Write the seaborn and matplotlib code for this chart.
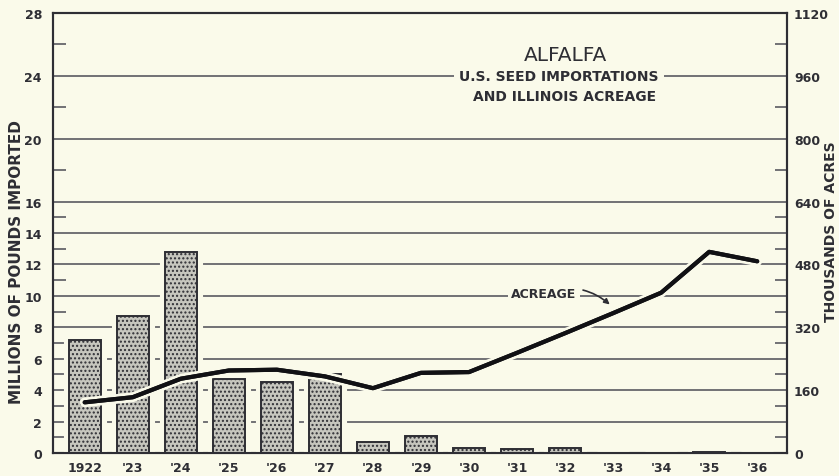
import numpy as np
import pandas as pd
import matplotlib
matplotlib.use('Agg')
import matplotlib.pyplot as plt
import matplotlib.patheffects as pe
import seaborn as sns

# data
years = ['1922', "'23", "'24", "'25", "'26", "'27", "'28", "'29",
         "'30", "'31", "'32", "'33", "'34", "'35", "'36"]
imports_mlb = [7.2, 8.7, 12.8, 4.7, 4.5, 5.0, 0.7, 1.1,
               0.35, 0.25, 0.35, 0.0, 0.0, 0.08, 0.0]
acreage_k = [129, 142, 189, 210, 212, 195, 165, 204,
             206, 255, 305, 356, 408, 512, 488]

left_ticks = [0, 2, 4, 6, 8, 10, 12, 14, 16, 20, 24, 28]
left_minor = [1, 3, 5, 7, 9, 11, 13, 15, 18, 22, 26]
right_ticks = [0, 160, 320, 480, 640, 800, 960, 1120]

BG = '#fafaea'
INK = '#2e2e34'
GRID = '#5a5a60'

sns.set_theme(style='white')
plt.rcParams['font.family'] = ['DejaVu Sans']
plt.rcParams['font.weight'] = 'bold'

df = pd.DataFrame({'year': years, 'imports': imports_mlb, 'acreage': acreage_k})

fig = plt.figure(figsize=(8.39, 4.77), dpi=100, facecolor=BG)
ax = fig.add_axes([53 / 839, 23 / 477, 734 / 839, 440 / 477])
ax.set_facecolor(BG)

# bars with a halo so the grid stops short of them
sns.barplot(data=df, x='year', y='imports', ax=ax, width=0.66,
            color='#c6c6be', edgecolor=INK, linewidth=1.4, hatch='....',
            saturation=1, zorder=3)
for p in ax.patches:
    p.set_path_effects([pe.withStroke(linewidth=8, foreground=BG)])

ax.set_xlim(-0.66, 14.62)
ax.set_ylim(0, 28)
ax.set_yticks(left_ticks)
ax.set_yticks(left_minor, minor=True)
ax.grid(axis='y', which='major', color=GRID, linewidth=1.2, zorder=1)
ax.set_axisbelow(True)
ax.set_xlabel('')
ax.set_ylabel('MILLIONS OF POUNDS IMPORTED', fontsize=11, fontweight='bold', color=INK)
ax.yaxis.set_label_coords(-0.040, 0.436)
for s in ax.spines.values():
    s.set_color(INK)
    s.set_linewidth(1.5)

# acreage line on the right axis
ax2 = ax.twinx()
x_pos = np.arange(len(years))
sns.lineplot(x=x_pos, y=acreage_k, ax=ax2, color='#111114', linewidth=3,
             path_effects=[pe.withStroke(linewidth=7, foreground=BG), pe.Normal()],
             zorder=5)
ax2.set_ylim(0, 1120)
ax2.set_yticks(right_ticks)
ax2.tick_params(axis='y', length=0, pad=5, labelsize=9, labelcolor=INK)
ax2.set_ylabel('THOUSANDS OF ACRES', fontsize=10, fontweight='bold', color=INK)
ax2.yaxis.set_label_coords(1.050, 0.505)
ax2.grid(False)
for s in ax2.spines.values():
    s.set_color(INK)
    s.set_linewidth(1.5)

# ticks on the left axes (after twinx, which turns the right ones off)
ax.tick_params(axis='y', which='major', length=0, pad=8, labelsize=9, labelcolor=INK)
ax.tick_params(axis='y', which='minor', direction='in', length=9, width=1.2,
               color=GRID, left=True, right=True)
ax.tick_params(axis='x', length=0, pad=6, labelsize=9, labelcolor=INK)

ax2.annotate('ACREAGE', xy=(10.93, 378), xytext=(9.56, 406),
             ha='center', va='center', fontsize=9, color=INK,
             bbox=dict(boxstyle='square,pad=0.3', fc=BG, ec='none'),
             arrowprops=dict(arrowstyle='-|>', color=INK, lw=1.2,
                             connectionstyle='arc3,rad=-0.3',
                             shrinkA=2, shrinkB=0, mutation_scale=8),
             zorder=6)

# title block
tx = (565 - 53) / 734
ax.text(tx, 0.905, 'ALFALFA', transform=ax.transAxes, ha='center', va='center',
        fontsize=14.5, fontweight='normal', color=INK)
ax.text(tx - 0.008, 0.857, 'U.S. SEED IMPORTATIONS', transform=ax.transAxes,
        ha='center', va='center', fontsize=10, color=INK, zorder=4,
        bbox=dict(boxstyle='square,pad=0.4', fc=BG, ec='none'))
ax.text(tx, 0.812, 'AND ILLINOIS ACREAGE', transform=ax.transAxes, ha='center',
        va='center', fontsize=10, color=INK)

fig.savefig('out.png', dpi=100, facecolor=BG)
